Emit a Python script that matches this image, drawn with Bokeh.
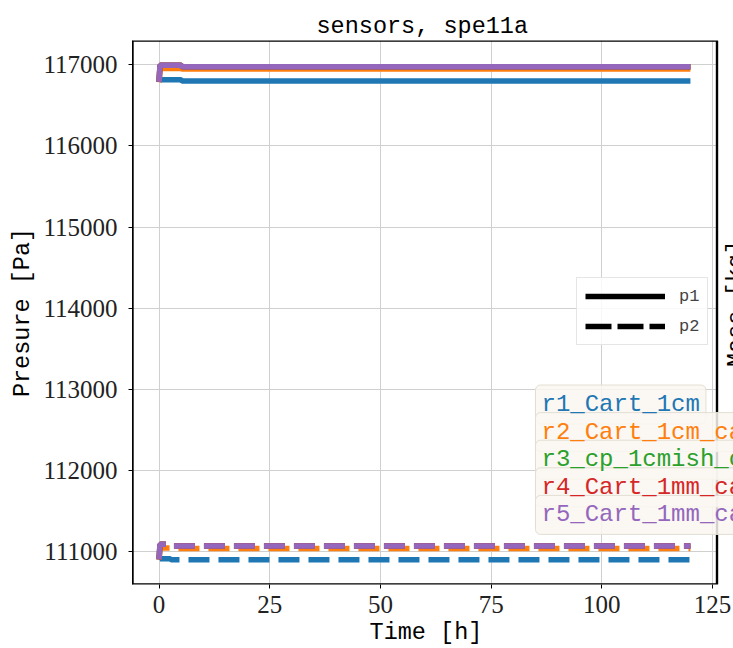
import math
from bokeh.plotting import figure
from bokeh.models import (Range1d, Legend, LegendItem, Label, FixedTicker,
                          BasicTickFormatter, BoxAnnotation)
from bokeh.embed import file_html
from bokeh.resources import INLINE

# ---- data ----
time_p1 = [0.0, 0.2, 5.0, 5.2, 120.0]
time_p2 = [0.0, 0.2, 2.5, 2.7, 120.0]
runs = ["r1_Cart_1cm", "r2_Cart_1cm_capped", "r3_cp_1cmish_capped",
        "r4_Cart_1mm_capped", "r5_Cart_1mm_capped"]
colors = ["#1f77b4", "#ff7f0e", "#2ca02c", "#d62728", "#9467bd"]

p1_r1 = [116790, 116815, 116815, 116800, 116800]
p1_r2 = [116785, 116955, 116955, 116950, 116950]
p1_r3 = [116790, 116995, 116995, 116975, 116975]
p1_r4 = [116790, 116995, 116995, 116975, 116975]
p1_r5 = [116790, 116995, 116995, 116975, 116975]

p2_r1 = [110905, 110912, 110912, 110900, 110900]
p2_r2 = [110905, 111045, 111045, 111040, 111040]
p2_r3 = [110905, 111090, 111090, 111070, 111070]
p2_r4 = [110905, 111090, 111090, 111070, 111070]
p2_r5 = [110905, 111090, 111090, 111070, 111070]

p1_series = [p1_r1, p1_r2, p1_r3, p1_r4, p1_r5]
p2_series = [p2_r1, p2_r2, p2_r3, p2_r4, p2_r5]

x_ticks = [0, 25, 50, 75, 100, 125]
y_ticks = [111000, 112000, 113000, 114000, 115000, 116000, 117000]

# ---- layout numbers ----
W, H = 733, 648
FL, FR, FT, FB = 132, 716.5, 40, 586   # axes box in the reference (px)

def padded(lo, hi, m=0.05):
    r = hi - lo
    return lo - m * r, hi + m * r

xlo, xhi = padded(min(time_p1 + time_p2), max(time_p1 + time_p2))
allv = [v for s in p1_series + p2_series for v in s]
ylo, yhi = padded(min(allv), max(allv))

# the frame runs to the window edge so that texts may overflow the axes box
px_per_x = (FR - FL) / (xhi - xlo)
x_view_end = xhi + (W - FR) / px_per_x

MONO = "Liberation Mono"
SERIF = "Liberation Serif"
BOXFILL = "#faf7f1"

p = figure(width=W, height=H, output_backend="svg", toolbar_location=None,
           x_range=Range1d(xlo, x_view_end), y_range=Range1d(ylo, yhi),
           min_border_left=FL, min_border_right=0, min_border_top=FT,
           min_border_bottom=H - FB, title="sensors, spe11a")
p.background_fill_color = "white"
p.border_fill_color = "white"
p.outline_line_color = None

p.title.text_font = MONO
p.title.text_font_size = "23.5px"
p.title.text_font_style = "normal"
p.title.align = "left"
p.title.offset = 184
p.title.text_color = "black"
p.title.standoff = 1

for ax in (p.xaxis[0], p.yaxis[0]):
    ax.major_label_text_font = SERIF
    ax.major_label_text_font_size = "25px"
    ax.major_label_text_color = "#222222"
    ax.axis_label_text_font = MONO
    ax.axis_label_text_font_size = "23.5px"
    ax.axis_label_text_font_style = "normal"
    ax.axis_label_text_color = "black"
    ax.major_tick_out = 4
    ax.major_tick_in = 0
    ax.minor_tick_out = 0
    ax.minor_tick_in = 0
    ax.major_tick_line_color = "black"

p.xaxis[0].axis_line_color = None
p.yaxis[0].axis_line_color = "black"
p.xaxis[0].ticker = FixedTicker(ticks=x_ticks)
p.yaxis[0].ticker = FixedTicker(ticks=y_ticks)
p.yaxis[0].formatter = BasicTickFormatter(use_scientific=False)
p.xaxis[0].axis_label = "Time [h]\u00a0"
p.yaxis[0].axis_label = "Presure [Pa]"
p.xaxis[0].major_label_standoff = 7
p.yaxis[0].major_label_standoff = 11
p.xaxis[0].axis_label_standoff = 3
p.yaxis[0].axis_label_standoff = 4

p.xgrid.grid_line_color = "#d0d0d0"
p.ygrid.grid_line_color = "#d0d0d0"
p.xgrid.grid_line_width = 1
p.ygrid.grid_line_width = 1

LW = 5.5
for s, c in zip(p1_series, colors):
    p.line(time_p1, s, line_color=c, line_width=LW)
for s, c in zip(p2_series, colors):
    p.line(time_p2, s, line_color=c, line_width=LW, line_dash="21 9")

# blank out the area right of the axes box, then draw the box itself
p.add_layout(BoxAnnotation(left=xhi, fill_color="white", fill_alpha=1.0,
                           line_color=None, line_alpha=0.0))
p.add_layout(BoxAnnotation(left=xlo, right=xhi, bottom=ylo, top=yhi,
                           fill_alpha=0.0, line_color="black", line_alpha=1.0,
                           line_width=2.4))

# style legend (p1 solid, p2 dashed); handles drawn off-range
hx = [xlo - 20, xlo - 10]
hy = [ylo, ylo]
r_p1 = p.line(hx, hy, line_color="black", line_width=LW)
r_p2 = p.line(hx, hy, line_color="black", line_width=LW, line_dash="26 6")
leg = Legend(items=[LegendItem(label="p1", renderers=[r_p1]),
                    LegendItem(label="p2", renderers=[r_p2])],
             location=(444, 239), margin=0, padding=8, spacing=10,
             glyph_width=80, glyph_height=20, label_standoff=14,
             label_text_font=MONO, label_text_font_size="17px",
             border_line_color="#cccccc", background_fill_alpha=0.85)
p.add_layout(leg, "center")

# run name labels: boxes first (text hidden in box colour), texts on top
y0 = 180.0
for i, name in enumerate(runs):
    p.add_layout(Label(x=403, y=y0 - 27.6 * i, x_units="screen", y_units="screen",
                       text=name, text_color=BOXFILL, text_font=MONO,
                       text_font_size="24px", text_align="left",
                       text_baseline="middle",
                       background_fill_color=BOXFILL, background_fill_alpha=0.85,
                       border_line_color="#e2ded3", border_line_alpha=1.0,
                       padding=6, border_radius=5))
for i, (name, c) in enumerate(zip(runs, colors)):
    p.add_layout(Label(x=403, y=y0 - 27.6 * i, x_units="screen", y_units="screen",
                       text=name, text_color=c, text_font=MONO,
                       text_font_size="24px", text_align="left",
                       text_baseline="middle", padding=6))

# secondary axis label on the right, cut by the window edge
mass = Label(x=590, y=281, x_units="screen", y_units="screen",
             text="Mass [kg]", angle=math.pi / 2, text_font=MONO,
             text_font_size="23.5px", text_color="black",
             text_align="center", text_baseline="top")
p.add_layout(mass)

open("out.html", "w").write(file_html(p, INLINE))
